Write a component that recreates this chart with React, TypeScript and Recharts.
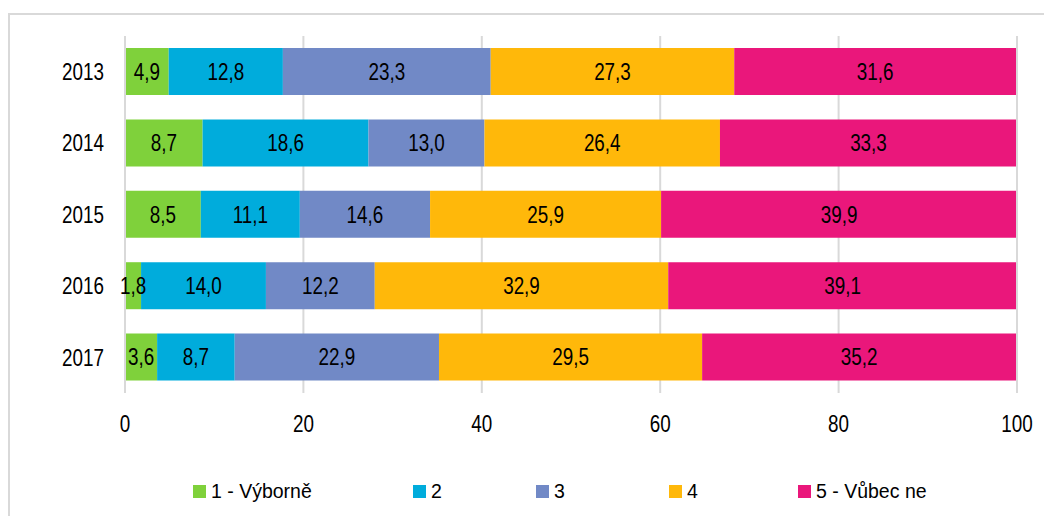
import React from 'react';
import {
  BarChart,
  Bar,
  XAxis,
  YAxis,
  CartesianGrid,
  LabelList,
  Legend,
  ReferenceLine,
} from 'recharts';

const years = ['2013', '2014', '2015', '2016', '2017'];
const grade1 = [4.9, 8.7, 8.5, 1.8, 3.6];
const grade2 = [12.8, 18.6, 11.1, 14.0, 8.7];
const grade3 = [23.3, 13.0, 14.6, 12.2, 22.9];
const grade4 = [27.3, 26.4, 25.9, 32.9, 29.5];
const grade5 = [31.6, 33.3, 39.9, 39.1, 35.2];
const xTicks = [0, 20, 40, 60, 80, 100];

const seriesNames = ['1 - Výborně', '2', '3', '4', '5 - Vůbec ne'];
const seriesColors = ['#7fd13b', '#00acdc', '#7189c6', '#ffb80a', '#ea177b'];

const data = years.map((year, i) => ({
  year,
  s1: grade1[i],
  s2: grade2[i],
  s3: grade3[i],
  s4: grade4[i],
  s5: grade5[i],
}));

// no Arial Narrow available, so squeeze Liberation Sans horizontally
const FONT = '"Liberation Sans", Arial, sans-serif';
const FS = 23;
const SQUEEZE = 0.82;
const GRID = '#d9d9d9';

const fmt = (v: any) => Number(v).toFixed(1).replace('.', ',');

const NarrowText = ({ x, y, anchor, dy, children }: any) => (
  <text
    transform={`translate(${x},${y}) scale(${SQUEEZE},1)`}
    textAnchor={anchor}
    dy={dy}
    fontFamily={FONT}
    fontSize={FS}
    fill="#000"
  >
    {children}
  </text>
);

const YTick = ({ x, y, payload }: any) => (
  <NarrowText x={x} y={y} anchor="end" dy="0.36em">
    {payload.value}
  </NarrowText>
);

const XTick = ({ x, y, payload }: any) => (
  <NarrowText x={x} y={y} anchor="middle" dy="0.72em">
    {payload.value}
  </NarrowText>
);

const BarLabel = ({ x, y, width, height, value }: any) => (
  <NarrowText x={x + width / 2} y={y + height / 2} anchor="middle" dy="0.36em">
    {fmt(value)}
  </NarrowText>
);

// Excel-style legend, items spaced unevenly like the original
const legendWidths = [220, 123, 133, 129, 150];

const renderLegend = () => (
  <div style={{ display: 'flex', fontFamily: FONT, fontSize: 19.5, color: '#000' }}>
    {seriesNames.map((name, i) => (
      <div
        key={name}
        style={{ width: legendWidths[i], display: 'flex', alignItems: 'center', whiteSpace: 'nowrap' }}
      >
        <span
          style={{
            display: 'inline-block',
            width: 13,
            height: 13,
            background: seriesColors[i],
            marginRight: 5,
          }}
        />
        <span>{name}</span>
      </div>
    ))}
  </div>
);

export default function App() {
  const keys = ['s1', 's2', 's3', 's4', 's5'];
  return (
    <div>
      <div
        style={{
          position: 'absolute',
          left: 8,
          top: 13,
          width: 1036,
          height: 503,
          borderTop: `2px solid ${GRID}`,
          borderLeft: `2px solid ${GRID}`,
          boxSizing: 'border-box',
        }}
      />
      <div style={{ position: 'absolute', left: 0, top: 0 }}>
        <BarChart
          width={1044}
          height={516}
          data={data}
          layout="vertical"
          margin={{ top: 36, right: 27, bottom: 73, left: 0 }}
        >
          <CartesianGrid horizontal={false} stroke={GRID} strokeWidth={2} />
          <XAxis
            type="number"
            domain={[0, 100]}
            ticks={xTicks}
            axisLine={false}
            tickLine={false}
            tickSize={0}
            tickMargin={22}
            height={50}
            tick={<XTick />}
          />
          <YAxis
            type="category"
            dataKey="year"
            width={125}
            axisLine={{ stroke: GRID, strokeWidth: 2 }}
            tickLine={false}
            tickSize={0}
            tickMargin={21}
            tick={<YTick />}
          />
          <ReferenceLine x={100} stroke={GRID} strokeWidth={2} />
          {keys.map((k, i) => (
            <Bar
              key={k}
              dataKey={k}
              name={seriesNames[i]}
              stackId="a"
              fill={seriesColors[i]}
              barSize={47}
              isAnimationActive={false}
            >
              <LabelList dataKey={k} content={<BarLabel />} />
            </Bar>
          ))}
          <Legend
            layout="horizontal"
            verticalAlign="middle"
            content={renderLegend}
            wrapperStyle={{ left: 193, top: 480, width: 810, height: 26 }}
          />
        </BarChart>
      </div>
    </div>
  );
}
